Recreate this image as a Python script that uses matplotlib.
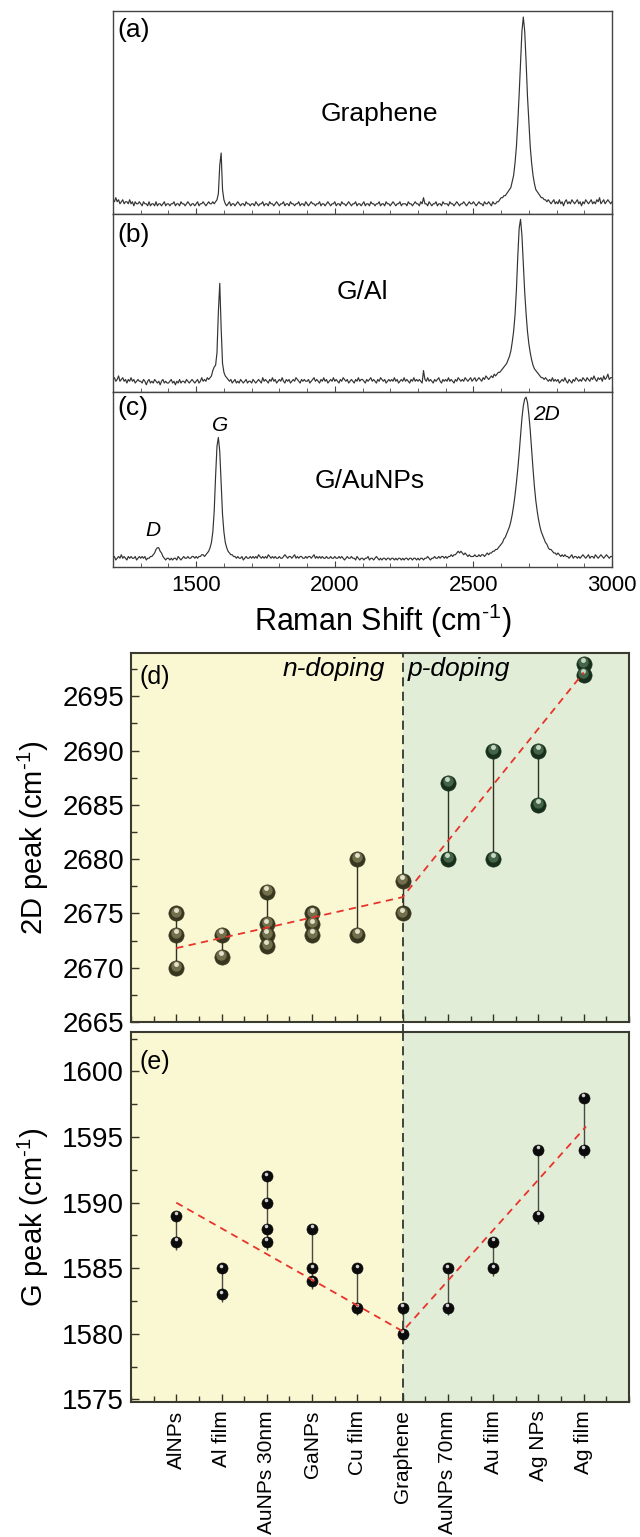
import numpy as np
import matplotlib
matplotlib.use('Agg')
import matplotlib.pyplot as plt
from matplotlib.transforms import offset_copy
from matplotlib.ticker import MultipleLocator

plt.rcParams['font.family'] = ['Liberation Sans', 'DejaVu Sans']
plt.rcParams['mathtext.fontset'] = 'custom'
plt.rcParams['mathtext.rm'] = 'Liberation Sans'
plt.rcParams['mathtext.it'] = 'Liberation Sans:italic'

# Raman spectra, intensity in % of panel height, 1200-3000 cm-1 every 5 cm-1
spec_x = np.arange(1200, 3001, 5)

spec_graphene = [
    7,6,8,6,7,5,6,7,5,6,6,5,7,5,6,4,6,5,5,6,
    5,4,6,5,5,4,6,4,5,5,4,6,4,5,5,4,5,6,4,5,
    5,4,5,5,6,4,5,5,4,6,5,5,4,5,6,5,4,5,5,4,
    5,6,4,5,5,6,5,4,5,6,5,5,6,5,6,7,10,24,30,12,
    7,5,4,5,6,4,5,5,4,5,6,5,4,5,5,4,6,5,5,4,
    5,5,4,6,5,4,5,5,6,4,5,5,4,6,5,5,4,5,6,5,
    4,5,5,6,4,5,5,4,6,5,5,4,5,5,6,4,5,5,4,6,
    5,4,5,6,5,5,4,5,5,6,4,5,5,4,5,6,5,4,5,5,
    6,4,5,5,4,6,5,5,4,5,6,5,4,5,5,6,4,5,5,4,
    5,6,4,5,5,4,6,5,5,4,5,5,6,4,5,5,4,6,5,5,
    4,5,6,5,4,5,5,6,4,5,5,5,4,6,5,5,4,5,6,5,
    5,4,6,5,8,5,5,4,6,5,4,5,5,6,4,5,5,4,6,5,
    5,5,4,6,5,5,4,5,6,5,4,5,5,6,5,4,5,6,5,5,
    6,5,4,5,6,5,5,4,6,5,5,6,5,4,6,5,5,6,6,7,
    8,8,9,9,10,11,12,13,16,19,25,33,45,59,75,90,97,90,75,58,
    45,33,25,19,15,12,11,10,9,8,8,7,7,6,7,6,5,6,7,5,
    6,5,7,5,6,4,6,7,5,6,5,7,6,5,6,7,5,6,4,6,
    5,7,6,5,6,7,5,6,5,7,6,8,5,6,7,5,6,7,6,5,
    6]

spec_al = [
    7,8,6,7,9,6,7,8,6,7,5,7,6,8,6,7,5,6,7,6,
    6,5,7,6,4,6,7,5,6,5,7,6,5,6,4,6,7,5,6,5,
    5,6,7,5,6,4,6,5,7,5,6,6,5,7,6,5,6,7,6,5,
    6,7,5,6,8,6,7,6,8,7,8,9,12,14,15,22,45,61,36,16,
    11,9,8,7,6,7,5,6,7,5,6,5,7,6,5,6,7,5,6,6,
    5,7,6,5,6,7,6,5,8,6,7,6,5,7,6,8,6,7,5,6,
    7,6,8,6,5,7,6,7,5,6,7,6,8,7,6,5,7,6,7,6,
    6,7,5,6,7,8,6,7,6,5,7,6,8,6,7,5,6,7,6,8,
    6,7,6,5,7,6,8,7,6,7,5,6,7,6,5,7,6,8,6,7,
    7,6,5,7,6,7,8,6,7,6,5,7,6,8,7,6,7,5,6,7,
    6,7,6,8,6,7,5,6,7,6,8,6,7,6,5,7,6,8,6,7,
    6,7,6,5,12,7,6,8,6,7,6,5,7,6,7,8,6,5,7,6,
    7,6,8,6,7,6,5,7,6,8,7,6,7,6,8,7,6,7,8,6,
    7,8,6,7,8,7,6,8,7,9,8,7,8,9,8,10,9,10,11,11,
    12,13,14,15,16,18,20,23,28,34,43,57,76,92,97,88,72,56,44,34,
    27,22,18,15,13,12,11,10,9,8,8,7,8,7,6,7,6,8,6,7,
    6,7,5,6,7,6,8,6,5,7,6,5,7,6,8,7,6,7,6,8,
    7,6,8,7,6,8,7,9,7,6,8,7,8,6,9,7,8,10,7,8,
    8]

spec_aunps = [
    5,6,4,5,6,5,7,5,6,5,4,6,5,6,5,5,6,4,5,6,
    5,6,5,6,4,5,5,6,6,7,8,10,11,11,9,8,6,5,4,5,
    5,4,5,4,5,5,4,6,5,4,5,6,5,5,6,5,5,6,6,5,
    6,5,6,6,7,7,6,7,8,9,11,14,20,32,52,69,74,66,48,30,
    20,14,11,9,8,7,7,6,6,5,6,5,5,6,4,5,6,5,5,6,
    5,6,5,6,5,7,6,5,6,5,6,5,7,6,5,6,5,6,5,5,
    6,5,5,6,7,6,5,6,6,5,6,7,5,6,5,6,6,5,5,6,
    5,6,6,5,6,7,5,6,5,6,5,6,5,5,6,5,5,6,5,5,
    6,5,5,6,5,6,5,4,5,6,5,5,6,5,5,4,6,5,4,5,
    5,4,5,5,6,4,5,5,4,5,6,5,4,5,4,5,5,4,5,5,
    4,5,5,4,5,4,5,5,4,5,4,5,5,4,5,5,4,5,5,4,
    5,4,5,5,4,5,5,6,5,4,5,5,6,5,5,6,5,6,6,5,
    6,5,6,6,7,6,7,7,8,9,8,9,8,7,8,7,6,7,6,6,
    6,7,6,6,7,6,7,7,6,7,8,7,8,8,9,9,10,10,11,12,
    13,14,16,17,19,21,23,26,30,35,41,48,56,65,75,85,92,96,97,94,
    87,78,67,56,46,38,32,27,23,20,18,16,14,13,11,10,10,9,8,8,
    7,8,7,6,7,6,7,6,6,5,6,7,5,6,6,5,6,5,6,7,
    6,5,6,7,5,6,6,5,7,6,5,6,7,6,5,6,7,6,5,6,
    6]

spec_names = ['Graphene', 'G/Al', 'G/AuNPs']
spec_tags = ['(a)', '(b)', '(c)']

# peak positions per substrate
categories = ['AlNPs', 'Al film', 'AuNPs 30nm', 'GaNPs', 'Cu film',
              'Graphene', 'AuNPs 70nm', 'Au film', 'Ag NPs', 'Ag film']
peak_2d = [[2670, 2673, 2675], [2671, 2673], [2672, 2673, 2674, 2677],
           [2673, 2674, 2675], [2673, 2680], [2675, 2678], [2680, 2687],
           [2680, 2690], [2685, 2690], [2697, 2698]]
peak_g = [[1587, 1589], [1583, 1585], [1587, 1588, 1590, 1592],
          [1584, 1585, 1588], [1582, 1585], [1580, 1582], [1582, 1585],
          [1585, 1587], [1589, 1594], [1594, 1598]]

# linear trends (n- and p-doping branches)
trend_2d_x = [1, 6, 10]
trend_2d_y = [2671.8, 2676.5, 2697.2]
trend_g_x = [1, 6, 10.05]
trend_g_y = [1590.0, 1580.2, 1595.8]

unit = '(cm$^{\\text{-1}}$)'

fig = plt.figure(figsize=(6.4, 15.37), dpi=100)

# ---- spectra ----
spec_boxes = [(0.8608, 0.1321), (0.7450, 0.1158), (0.6311, 0.1139)]
spec_data = [spec_graphene, spec_al, spec_aunps]
name_pos = [(2160, 0.49), (2100, 0.56), (2125, 0.49)]
tag_y = [0.905, 0.88, 0.91]
spec_axes = []
for k in range(3):
    b, h = spec_boxes[k]
    ax = fig.add_axes([0.1766, b, 0.7797, h])
    ax.plot(spec_x, np.array(spec_data[k]) / 100.0, color='#333333', lw=0.85)
    ax.set_xlim(1200, 3000)
    ax.set_ylim(0, 1)
    ax.set_yticks([])
    ax.xaxis.set_major_locator(MultipleLocator(500))
    ax.xaxis.set_minor_locator(MultipleLocator(100))
    ax.tick_params(axis='x', which='both', direction='in', top=False,
                   labelsize=16, pad=6, color='#444444')
    ax.tick_params(axis='x', which='major', length=4)
    ax.tick_params(axis='x', which='minor', length=3)
    for s in ax.spines.values():
        s.set_color('#444444')
        s.set_linewidth(1.0)
    ax.text(0.008, tag_y[k], spec_tags[k], transform=ax.transAxes,
            fontsize=19, ha='left', va='center')
    ax.text(name_pos[k][0], name_pos[k][1], spec_names[k], fontsize=19,
            ha='center', va='center')
    if k < 2:
        ax.tick_params(axis='x', labelbottom=False)
    spec_axes.append(ax)

axc = spec_axes[2]
axc.set_xticks([1500, 2000, 2500, 3000])
axc.text(1345, 0.21, 'D', fontsize=15, style='italic', ha='center', va='center')
axc.text(1585, 0.81, 'G', fontsize=15, style='italic', ha='center', va='center')
axc.text(2765, 0.87, '2D', fontsize=15, style='italic', ha='center', va='center')
axc.set_xlabel('Raman Shift ' + unit, fontsize=22, labelpad=4)
axc.xaxis.label.set_x(0.54)

# ---- peak position panels ----
yellow = '#faf7d3'
green = '#e1edd6'
ax_d = fig.add_axes([0.2047, 0.3351, 0.7781, 0.2401])
ax_e = fig.add_axes([0.2047, 0.0878, 0.7781, 0.2407])

xpos = np.arange(1, len(categories) + 1)


def sphere(ax, x, y, body, mid, hi, ms):
    ax.plot(x, y, 'o', ms=ms, mfc=body, mec=body, mew=0.4, ls='none', zorder=5)
    if mid is not None:
        tr = offset_copy(ax.transData, fig=fig, x=-0.2, y=ms * 0.12, units='points')
        ax.plot(x, y, 'o', ms=ms * 0.68, mfc=mid, mec='none', ls='none',
                transform=tr, zorder=6, alpha=0.85)
    tr = offset_copy(ax.transData, fig=fig, x=-0.3, y=ms * 0.24, units='points')
    ax.plot(x, y, 'o', ms=ms * 0.32, mfc=hi, mec='none', ls='none',
            transform=tr, zorder=7, alpha=0.9)


for ax, peaks, trx, tr_y in [(ax_d, peak_2d, trend_2d_x, trend_2d_y),
                             (ax_e, peak_g, trend_g_x, trend_g_y)]:
    ax.axvspan(0, 6, color=yellow, zorder=0, lw=0)
    ax.axvspan(6, 11, color=green, zorder=0, lw=0)
    ax.set_xlim(0, 11)
    ax.plot(trx, tr_y, color='#e8332b', lw=1.3, dashes=(4, 3), zorder=8)
    ax.xaxis.set_major_locator(MultipleLocator(1))
    ax.xaxis.set_minor_locator(MultipleLocator(0.5))
    ax.yaxis.set_major_locator(MultipleLocator(5))
    ax.yaxis.set_minor_locator(MultipleLocator(2.5))
    ax.tick_params(which='both', direction='in', top=False, right=False,
                   color='#333326', labelsize=20, pad=5)
    ax.tick_params(which='major', length=6, width=1.0)
    ax.tick_params(which='minor', length=4, width=1.0)
    for s in ax.spines.values():
        s.set_color('#3a3a2e')
        s.set_linewidth(1.5)

ax_d.axvline(6, ymin=-0.03, ymax=1, color='#2e3a2e', lw=1.3, dashes=(5, 3),
             clip_on=False, zorder=3)
ax_e.axvline(6, color='#2e3a2e', lw=1.3, dashes=(5, 3), zorder=3)

# 2D peak panel
ax_d.set_ylim(2665, 2699)
for x, vals in zip(xpos, peak_2d):
    ax_d.vlines(x, min(vals), max(vals), color='#2f3326', lw=1.0, zorder=4)
    if x <= 6:
        sphere(ax_d, [x] * len(vals), vals, '#37361f', '#7d7a55', '#efeed8', 11)
    else:
        sphere(ax_d, [x] * len(vals), vals, '#17301b', '#4d6e50', '#d4e4d2', 11)
ax_d.set_xticks(xpos)
ax_d.tick_params(axis='x', labelbottom=False)
ax_d.set_ylabel('2D peak ' + unit, fontsize=21, labelpad=8)
ax_d.text(0.018, 0.935, '(d)', transform=ax_d.transAxes, fontsize=18,
          ha='left', va='center')
ax_d.text(5.6, 2697.5, 'n-doping', fontsize=19, style='italic',
          ha='right', va='center')
ax_d.text(6.12, 2697.5, 'p-doping', fontsize=19, style='italic',
          ha='left', va='center')

# G peak panel
ax_e.set_ylim(1574.8, 1603)
for x, vals in zip(xpos, peak_g):
    ax_e.vlines(x, min(vals) - 0.6, max(vals), color='#4a4a44', lw=1.0, zorder=4)
    sphere(ax_e, [x] * len(vals), vals, '#0b0b0b', None, '#e8e8e8', 8)
ax_e.set_xticks(xpos)
ax_e.set_xticklabels(categories, rotation=90, fontsize=15)
ax_e.tick_params(axis='x', labelsize=15, pad=6)
ax_e.set_ylabel('G peak ' + unit, fontsize=21, labelpad=8)
ax_e.text(0.018, 0.92, '(e)', transform=ax_e.transAxes, fontsize=18,
          ha='left', va='center')

fig.savefig('out.png', dpi=100)
